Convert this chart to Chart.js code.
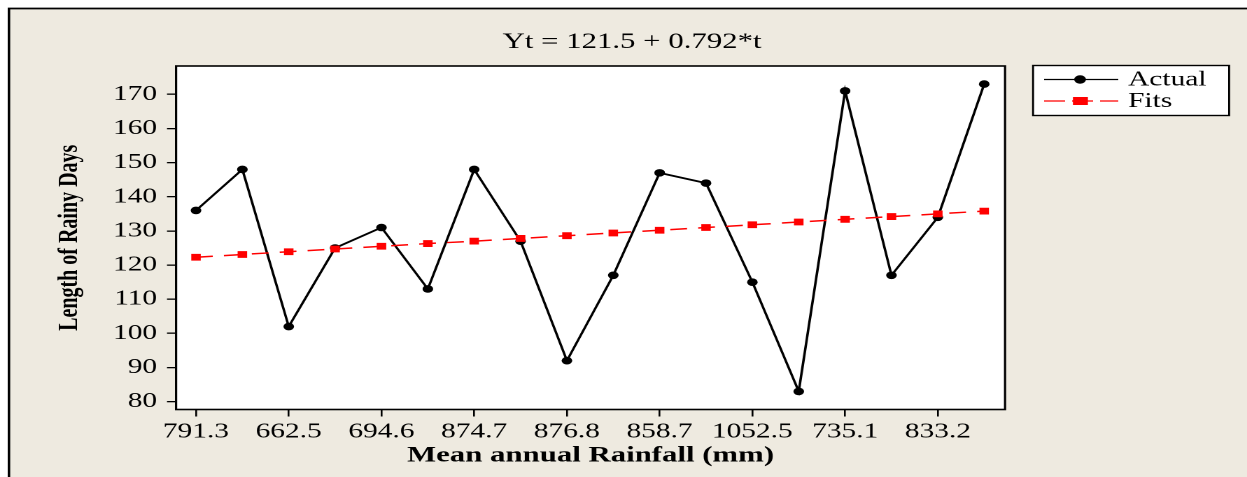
<!DOCTYPE html>
<html>
<head>
<meta charset="utf-8">
<title>Length of Rainy Days - trend</title>
<script src="https://cdn.jsdelivr.net/npm/chart.js@4.4.1/dist/chart.umd.min.js"></script>
<style>
    html, body { margin: 0; padding: 0; background: #fff; overflow: hidden; }
    /* the original figure is a horizontally stretched export, so stretch the canvas the same way */
    #wrap { width: 891px; height: 477px; transform: scaleX(1.3996); transform-origin: 0 0; }
</style>
</head>
<body>
<div id="wrap"><canvas id="trendChart" width="891" height="477"></canvas></div>
<script>
// Data
const period = [1, 2, 3, 4, 5, 6, 7, 8, 9, 10, 11, 12, 13, 14, 15, 16, 17, 18];
const actual = [136, 148, 102, 125, 131, 113, 148, 127, 92, 117, 147, 144, 115, 83, 171, 117, 134, 173];
const fits = [122.3, 123.1, 123.9, 124.7, 125.5, 126.3, 127.0, 127.8, 128.6, 129.4, 130.2, 131.0, 131.8, 132.6, 133.4, 134.2, 135.0, 135.8];
const xTickPos = [1, 3, 5, 7, 9, 11, 13, 15, 17];
const xTickLabels = ['791.3', '662.5', '694.6', '874.7', '876.8', '858.7', '1052.5', '735.1', '833.2'];
const yTicks = [80, 90, 100, 110, 120, 130, 140, 150, 160, 170];
const chartTitle = 'Yt = 121.5 + 0.792*t';

const SERIF = '"Liberation Serif", "Times New Roman", serif';
const BEIGE = '#eeeae0';

Chart.defaults.font.family = SERIF;
Chart.defaults.color = '#000';

// Frame, plot box, title and legend box (Minitab style)
const minitabFrame = {
    id: 'minitabFrame',
    beforeDraw(chart) {
        const { ctx, chartArea: a, width, height } = chart;
        ctx.save();
        ctx.fillStyle = '#fff';
        ctx.fillRect(0, 0, width, height);
        ctx.fillStyle = BEIGE;
        ctx.fillRect(6.4, 8, width, height);
        ctx.strokeStyle = '#000';
        ctx.lineWidth = 1.8;
        ctx.beginPath();
        ctx.moveTo(6.4, height);
        ctx.lineTo(6.4, 8.5);
        ctx.lineTo(width, 8.5);
        ctx.stroke();
        ctx.fillStyle = '#fff';
        ctx.fillRect(a.left, a.top, a.right - a.left, a.bottom - a.top);
        ctx.restore();
    },
    afterDraw(chart) {
        const { ctx, chartArea: a } = chart;
        const sets = chart.data.datasets;
        ctx.save();

        // plot border
        ctx.strokeStyle = '#000';
        ctx.lineWidth = 1.6;
        ctx.strokeRect(a.left, a.top, a.right - a.left, a.bottom - a.top);

        // title
        ctx.fillStyle = '#000';
        ctx.font = '22px ' + SERIF;
        ctx.textAlign = 'center';
        ctx.textBaseline = 'middle';
        ctx.fillText(chartTitle, 451.6, 42);

        // legend
        const lx = 738.1, ly = 65.5, lw = 140.1, lh = 50;
        ctx.fillStyle = '#fff';
        ctx.fillRect(lx, ly, lw, lh);
        ctx.lineWidth = 1.4;
        ctx.strokeRect(lx, ly, lw, lh);

        ctx.font = '21px ' + SERIF;
        ctx.textAlign = 'left';

        // Actual row
        ctx.strokeStyle = '#000';
        ctx.lineWidth = 1.3;
        ctx.beginPath();
        ctx.moveTo(746, 79.5);
        ctx.lineTo(799, 79.5);
        ctx.stroke();
        ctx.fillStyle = '#000';
        ctx.beginPath();
        ctx.arc(771.7, 79.5, 4.2, 0, Math.PI * 2);
        ctx.fill();
        ctx.fillText(sets[1].label, 806, 80);

        // Fits row
        ctx.strokeStyle = '#f00';
        ctx.setLineDash([15, 5]);
        ctx.beginPath();
        ctx.moveTo(746, 101);
        ctx.lineTo(799, 101);
        ctx.stroke();
        ctx.setLineDash([]);
        ctx.fillStyle = '#f00';
        ctx.fillRect(766.6, 97, 10.7, 8);
        ctx.fillStyle = '#000';
        ctx.fillText(sets[0].label, 806, 101.5);

        ctx.restore();
    }
};

const ctx = document.getElementById('trendChart').getContext('2d');
const trendChart = new Chart(ctx, {
    type: 'line',
    data: {
        datasets: [
            {
                label: 'Fits',
                data: period.map((t, i) => ({ x: t, y: fits[i] })),
                order: 0,
                borderColor: '#ff0000',
                borderWidth: 1.5,
                borderDash: [12, 8],
                pointStyle: 'rect',
                pointRadius: 4.8,
                pointBorderWidth: 0,
                pointBackgroundColor: '#ff0000',
                tension: 0
            },
            {
                label: 'Actual',
                data: period.map((t, i) => ({ x: t, y: actual[i] })),
                order: 1,
                borderColor: '#000',
                borderWidth: 1.8,
                pointStyle: 'circle',
                pointRadius: 3.8,
                pointBorderWidth: 0,
                pointBackgroundColor: '#000',
                tension: 0
            }
        ]
    },
    options: {
        responsive: false,
        devicePixelRatio: 2,
        animation: false,
        layout: {
            padding: { left: 0, top: 66, right: 172.9, bottom: 0 }
        },
        plugins: {
            legend: { display: false },
            tooltip: { enabled: false },
            title: { display: false }
        },
        scales: {
            x: {
                type: 'linear',
                min: 0.57,
                max: 18.45,
                afterBuildTicks: scale => { scale.ticks = xTickPos.map(v => ({ value: v })); },
                afterFit: scale => { scale.height = 67.5; },
                border: { display: false },
                grid: {
                    drawOnChartArea: false,
                    tickLength: 7,
                    color: '#000',
                    lineWidth: 1.3
                },
                ticks: {
                    autoSkip: false,
                    maxRotation: 0,
                    padding: 3,
                    color: '#000',
                    font: { size: 21 },
                    callback: value => xTickLabels[xTickPos.indexOf(value)]
                },
                title: {
                    display: true,
                    text: 'Mean annual Rainfall (mm)',
                    color: '#000',
                    font: { size: 22, weight: 'bold' },
                    padding: { top: 0, bottom: 8 }
                }
            },
            y: {
                min: 77.7,
                max: 178.3,
                afterBuildTicks: scale => { scale.ticks = yTicks.map(v => ({ value: v })); },
                afterFit: scale => { scale.width = 125.8; },
                border: { display: false },
                grid: {
                    drawOnChartArea: false,
                    tickLength: 6.5,
                    color: '#000',
                    lineWidth: 1.3
                },
                ticks: {
                    padding: 7,
                    color: '#000',
                    font: { size: 21 }
                },
                title: {
                    display: true,
                    text: 'Length of Rainy Days',
                    color: '#000',
                    font: { size: 20, weight: 'bold' },
                    padding: { top: 38, bottom: 0 }
                }
            }
        }
    },
    plugins: [minitabFrame]
});
</script>
</body>
</html>
